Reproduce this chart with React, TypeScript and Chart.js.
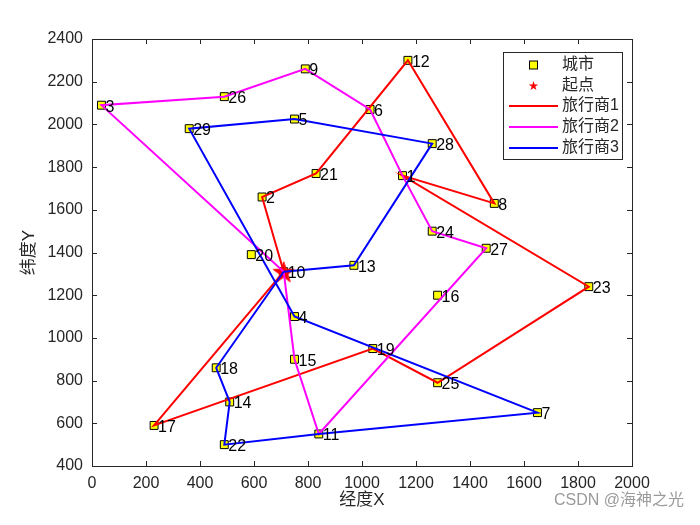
import { useEffect, useRef } from 'react';
import { Chart, registerables } from 'chart.js';

Chart.register(...registerables);

// ---- data ----
const cityIds = [1, 2, 3, 4, 5, 6, 7, 8, 9, 10, 11, 12, 13, 14, 15, 16, 17, 18, 19, 20, 21, 22, 23, 24, 25, 26, 27, 28, 29];
const cityX = [1150, 630, 35, 750, 750, 1030, 1650, 1490, 790, 710, 840, 1170, 970, 510, 750, 1280, 230, 460, 1040, 590, 830, 490, 1840, 1260, 1280, 490, 1460, 1260, 360];
const cityY = [1760, 1660, 2090, 1100, 2025, 2070, 650, 1630, 2260, 1310, 550, 2300, 1340, 700, 900, 1200, 590, 860, 950, 1390, 1770, 500, 1240, 1500, 790, 2130, 1420, 1910, 1980];
const startCity = 10;
const route1 = [10, 2, 21, 12, 8, 1, 23, 25, 19, 17, 10];
const route2 = [10, 3, 26, 9, 6, 1, 24, 27, 11, 15, 10];
const route3 = [10, 13, 28, 5, 29, 4, 7, 11, 22, 14, 18, 10];
const xTicks = [0, 200, 400, 600, 800, 1000, 1200, 1400, 1600, 1800, 2000];
const yTicks = [400, 600, 800, 1000, 1200, 1400, 1600, 1800, 2000, 2200, 2400];
const legendLabels = ['城市', '起点', '旅行商1', '旅行商2', '旅行商3'];
const routeColors = ['#ff0000', '#ff00ff', '#0000ff'];
const xTitle = '经度X';
const yTitle = '纬度Y';
const watermark = 'CSDN @海神之光';

const FONT = '"Liberation Sans", Arial, "Noto Sans CJK SC", sans-serif';
const TXT = '#262626';

function pt(id: number) {
  return { x: cityX[id - 1], y: cityY[id - 1] };
}

function starPath(ctx: CanvasRenderingContext2D, cx: number, cy: number, R: number) {
  const r = R * 0.382;
  ctx.beginPath();
  for (let i = 0; i < 10; i++) {
    const rad = i % 2 === 0 ? R : r;
    const a = -Math.PI / 2 + (i * Math.PI) / 5;
    const px = cx + rad * Math.cos(a);
    const py = cy + rad * Math.sin(a);
    if (i === 0) ctx.moveTo(px, py);
    else ctx.lineTo(px, py);
  }
  ctx.closePath();
}

function makeStar(R: number) {
  const c = document.createElement('canvas');
  const s = Math.ceil(R * 2 + 2);
  c.width = s;
  c.height = s;
  const ctx = c.getContext('2d')!;
  starPath(ctx, s / 2, s / 2 + R * 0.1, R);
  ctx.fillStyle = '#ff0000';
  ctx.fill();
  ctx.strokeStyle = '#ff0000';
  ctx.lineWidth = 1;
  ctx.stroke();
  return c;
}

const framePlugin = {
  id: 'frame',
  beforeDatasetsDraw(chart: any) {
    const { ctx, chartArea: a, scales } = chart;
    ctx.save();
    ctx.strokeStyle = TXT;
    ctx.lineWidth = 1;
    ctx.strokeRect(Math.round(a.left) + 0.5, Math.round(a.top) + 0.5, Math.round(a.right - a.left), Math.round(a.bottom - a.top));
    const tl = 5;
    ctx.beginPath();
    xTicks.forEach((v) => {
      const x = Math.round(scales.x.getPixelForValue(v)) + 0.5;
      ctx.moveTo(x, a.bottom);
      ctx.lineTo(x, a.bottom - tl);
      ctx.moveTo(x, a.top);
      ctx.lineTo(x, a.top + tl);
    });
    yTicks.forEach((v) => {
      const y = Math.round(scales.y.getPixelForValue(v)) + 0.5;
      ctx.moveTo(a.left, y);
      ctx.lineTo(a.left + tl, y);
      ctx.moveTo(a.right, y);
      ctx.lineTo(a.right - tl, y);
    });
    ctx.stroke();
    ctx.restore();
  },
  afterDatasetsDraw(chart: any) {
    const { ctx, scales } = chart;
    ctx.save();
    ctx.fillStyle = '#000';
    ctx.font = `16px ${FONT}`;
    ctx.textBaseline = 'middle';
    ctx.textAlign = 'left';
    cityIds.forEach((id, i) => {
      const x = scales.x.getPixelForValue(cityX[i]);
      const y = scales.y.getPixelForValue(cityY[i]);
      ctx.fillText(String(id), x + 4, y + 2);
    });
    ctx.restore();
  },
  afterDraw(chart: any) {
    const { ctx, chartArea: a } = chart;
    ctx.save();
    // axis titles
    ctx.fillStyle = TXT;
    ctx.font = `17px ${FONT}`;
    ctx.textAlign = 'center';
    ctx.textBaseline = 'middle';
    ctx.fillText(xTitle, (a.left + a.right) / 2, 500);
    ctx.save();
    ctx.translate(29, (a.top + a.bottom) / 2);
    ctx.rotate(-Math.PI / 2);
    ctx.fillText(yTitle, 0, 0);
    ctx.restore();
    // legend
    const bx = 503, by = 52, bw = 119, bh = 107;
    ctx.fillStyle = '#fff';
    ctx.fillRect(bx, by, bw, bh);
    ctx.strokeStyle = TXT;
    ctx.lineWidth = 1;
    ctx.strokeRect(bx + 0.5, by + 0.5, bw, bh);
    const ys = [65, 85.5, 106, 127, 148];
    const mx = 533.5;
    legendLabels.forEach((lab, i) => {
      const y = ys[i];
      if (i === 0) {
        ctx.fillStyle = '#ffff00';
        ctx.fillRect(mx - 4, y - 4, 8, 8);
        ctx.strokeStyle = '#000';
        ctx.strokeRect(mx - 4, y - 4, 8, 8);
      } else if (i === 1) {
        starPath(ctx, mx, y + 0.5, 5);
        ctx.fillStyle = '#ff0000';
        ctx.fill();
      } else {
        ctx.strokeStyle = routeColors[i - 2];
        ctx.lineWidth = 2;
        ctx.beginPath();
        ctx.moveTo(509, y);
        ctx.lineTo(558, y);
        ctx.stroke();
        ctx.lineWidth = 1;
      }
      ctx.fillStyle = TXT;
      ctx.font = `16px ${FONT}`;
      ctx.textAlign = 'left';
      ctx.fillText(lab, 562, y);
    });
    // watermark
    ctx.fillStyle = '#9a9a9a';
    ctx.font = `16px ${FONT}`;
    ctx.textAlign = 'right';
    ctx.fillText(watermark, 684, 501);
    ctx.restore();
  },
};

export default function App() {
  const ref = useRef<HTMLCanvasElement>(null);
  useEffect(() => {
    if (!ref.current) return;
    const star = makeStar(11);
    const lineDs = (route: number[], color: string) => ({
      type: 'scatter' as const,
      data: route.map(pt),
      showLine: true,
      borderColor: color,
      backgroundColor: color,
      borderWidth: 2,
      pointRadius: 0,
      fill: false,
      tension: 0,
    });
    const chart = new Chart(ref.current, {
      type: 'scatter',
      data: {
        datasets: [
          lineDs(route3, routeColors[2]),
          lineDs(route2, routeColors[1]),
          lineDs(route1, routeColors[0]),
          {
            data: [pt(startCity)],
            pointStyle: star as any,
            pointRadius: 10,
          },
          {
            data: cityIds.map(pt),
            pointStyle: 'rect',
            pointRadius: 5.6,
            backgroundColor: '#ffff00',
            borderColor: '#000000',
            borderWidth: 1,
          },
        ],
      } as any,
      options: {
        responsive: false,
        animation: false,
        devicePixelRatio: 1,
        layout: { padding: { left: 0, top: 39, right: 68, bottom: 0 } },
        plugins: { legend: { display: false }, tooltip: { enabled: false } },
        scales: {
          x: {
            type: 'linear',
            min: 0,
            max: 2000,
            afterBuildTicks: (s: any) => {
              s.ticks = xTicks.map((v) => ({ value: v }));
            },
            ticks: {
              color: TXT,
              font: { size: 16, family: FONT },
              padding: 8,
              maxRotation: 0,
              autoSkip: false,
              callback: (v: any) => String(v),
            },
            grid: { display: false, drawTicks: false },
            border: { display: false },
            afterFit: (s: any) => {
              s.height = 59;
            },
          },
          y: {
            type: 'linear',
            min: 400,
            max: 2400,
            afterBuildTicks: (s: any) => {
              s.ticks = yTicks.map((v) => ({ value: v }));
            },
            ticks: {
              color: TXT,
              font: { size: 16, family: FONT },
              padding: 9,
              autoSkip: false,
              callback: (v: any) => String(v),
            },
            grid: { display: false, drawTicks: false },
            border: { display: false },
            afterFit: (s: any) => {
              s.width = 92;
            },
          },
        },
      },
      plugins: [framePlugin],
    } as any);
    return () => chart.destroy();
  }, []);
  return (
    <div style={{ position: 'fixed', left: 0, top: 0, width: 700, height: 525, background: '#fff' }}>
      <canvas ref={ref} width={700} height={525} style={{ width: 700, height: 525 }} />
    </div>
  );
}
